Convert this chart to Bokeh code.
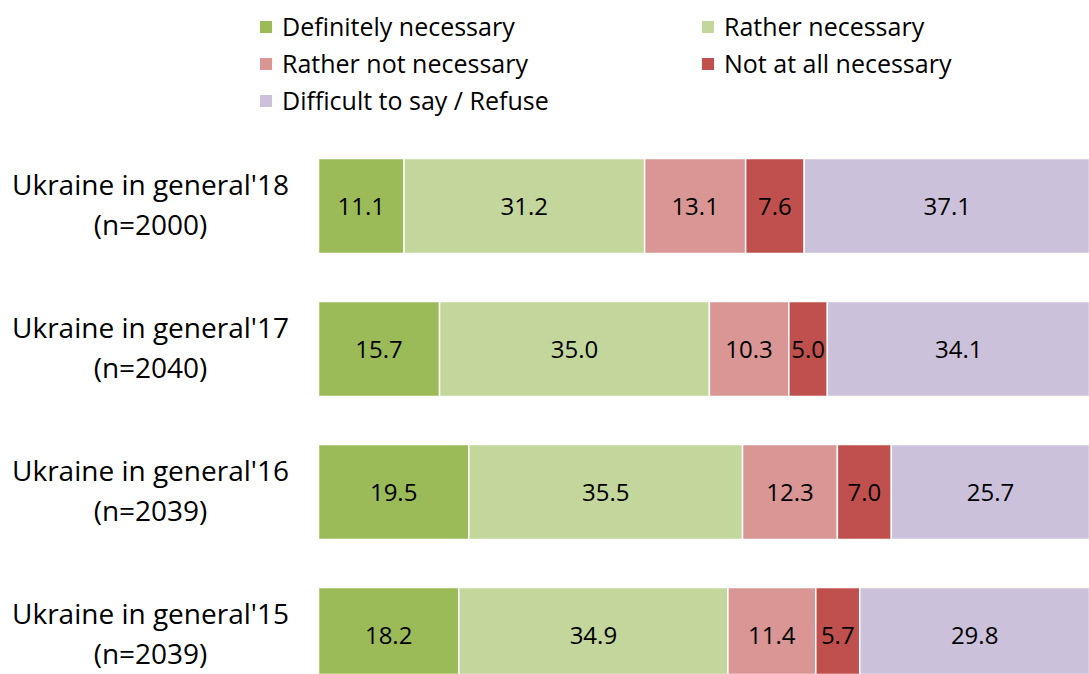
from bokeh.plotting import figure
from bokeh.models import ColumnDataSource, LabelSet, Legend, LegendItem, Range1d
from bokeh.core.properties import value
from bokeh.embed import file_html
from bokeh.resources import INLINE
import numpy as np

categories = ["Ukraine in general'18\n(n=2000)", "Ukraine in general'17\n(n=2040)",
              "Ukraine in general'16\n(n=2039)", "Ukraine in general'15\n(n=2039)"]
series_names = ["Definitely necessary", "Rather necessary", "Rather not necessary",
                "Not at all necessary", "Difficult to say / Refuse"]
definitely = [11.1, 15.7, 19.5, 18.2]
rather = [31.2, 35.0, 35.5, 34.9]
rather_not = [13.1, 10.3, 12.3, 11.4]
not_at_all = [7.6, 5.0, 7.0, 5.7]
difficult = [37.1, 34.1, 25.7, 29.8]
colors = ["#9BBB59", "#C3D69B", "#D99694", "#C0504D", "#CCC1DA"]

series = [definitely, rather, rather_not, not_at_all, difficult]
n = len(categories)
ypos = [n - 1 - i for i in range(n)]

# layout (pixels)
W, H = 1089, 674
bar_left_px = 318
px_per_unit = (W - bar_left_px) / 100.0
pitch = 143.0
first_center_px = 205.5

p = figure(width=W, height=H, output_backend="svg", toolbar_location=None,
           x_range=Range1d(-bar_left_px / px_per_unit, 100),
           y_range=Range1d(n - 1 + first_center_px / pitch - H / pitch,
                           n - 1 + first_center_px / pitch),
           min_border=0)
p.outline_line_color = None
p.grid.visible = False
p.axis.visible = False
p.background_fill_color = "white"
p.border_fill_color = "white"

FONT = "Open Sans"
renderers = []
left = np.zeros(n)
for name, vals, col in zip(series_names, series, colors):
    vals = np.array(vals)
    right = left + vals
    src = ColumnDataSource(dict(y=ypos, left=left, right=right,
                                mid=(left + right) / 2,
                                txt=["%.1f" % v for v in vals]))
    r = p.hbar(y="y", left="left", right="right", height=0.664, source=src,
               fill_color=col, line_color="white", line_width=1.5)
    renderers.append(r)
    p.add_layout(LabelSet(x="mid", y="y", text="txt", source=src,
                          text_align="center", text_baseline="middle",
                          text_font=value(FONT), text_font_size="24px",
                          text_color="#000000"))
    left = right

cat_src = ColumnDataSource(dict(y=ypos, x=[0] * n, txt=categories))
p.text(x="x", y="y", text="txt", source=cat_src, x_offset=-168, y_offset=-2,
       text_align="center", text_baseline="middle",
       text_font=value(FONT), text_font_size="28px", text_line_height=1.03,
       text_color="#000000")

legend = Legend(items=[LegendItem(label=nm, renderers=[r]) for nm, r in zip(series_names, renderers)],
                orientation="horizontal", ncols=2,
                location=(257, H - 118.5),
                glyph_width=17, glyph_height=17, label_standoff=8,
                label_width=417, label_height=37, spacing=0,
                padding=0, margin=0, border_line_color=None,
                background_fill_alpha=0,
                label_text_font=FONT, label_text_font_size="25px",
                label_text_color="#000000",
                label_text_baseline="middle")
p.add_layout(legend, "center")

open("out.html", "w").write(file_html(p, INLINE))
